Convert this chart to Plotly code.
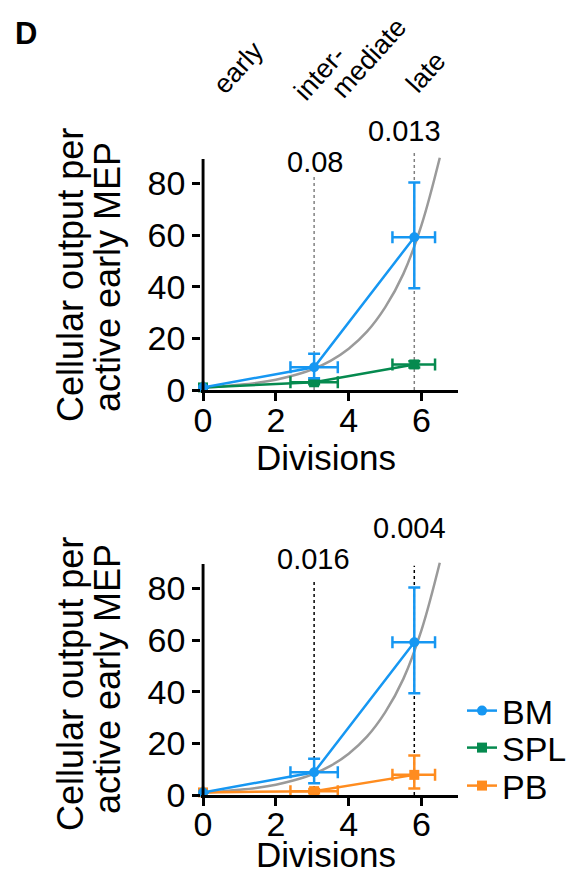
import plotly.graph_objects as go

# ---------------- data ----------------
divisions = [0, 3.05, 5.8]
div_err_minus = [0, 0.65, 0.6]
div_err_plus = [0, 0.65, 0.57]

bm_y = [1, 8.8, 59.2]
bm_err_plus = [0, 5.2, 21.2]
bm_err_minus = [0, 4.2, 19.8]

spl_y = [1, 3.0, 9.9]
spl_err_plus = [0, 0.8, 1.2]
spl_err_minus = [0, 0.8, 1.2]

pb_y = [1, 1.5, 7.8]
pb_err_plus = [0, 0.8, 7.5]
pb_err_minus = [0, 0.8, 5.3]

# exponential reference curve
curve_x = [0, 0.5, 1, 1.5, 2, 2.5, 3, 3.5, 4, 4.5, 5, 5.5, 6, 6.5]
curve_y = [1, 1.4, 2, 2.8, 4, 5.7, 8, 11.3, 16, 22.6, 32, 45, 64, 90]

stage_labels = ["early", "inter-", "mediate", "late"]
p_top = ["0.08", "0.013"]
p_bottom = ["0.016", "0.004"]
p_x = [3.05, 5.8]
dot_top_y = [83.5, 92]
dot_bot_y = [83.6, 88.8]

x_ticks = [0, 2, 4, 6]
y_ticks = [0, 20, 40, 60, 80]

# ---------------- style ----------------
W, H = 572, 873
FONT = "Arial, Liberation Sans, Helvetica, sans-serif"
BLUE = "#1697f2"
GREEN = "#058a4f"
ORANGE = "#ff8c1f"
GRAY = "#9a9a9a"

def px_x(p):
    return p / W

def px_y(p):
    return 1 - p / H

fig = go.Figure()

def add_series(x, y, ep, em, color, symbol, msize, name, xa, ya, show, leg):
    fig.add_trace(go.Scatter(
        x=x, y=y, mode="lines+markers", name=name,
        xaxis=xa, yaxis=ya, showlegend=show, legend=leg,
        line=dict(color=color, width=2.5),
        marker=dict(color=color, symbol=symbol, size=msize),
        error_y=dict(type="data", array=ep, arrayminus=em, color=color,
                     thickness=2.5, width=6, symmetric=False),
        error_x=dict(type="data", array=div_err_plus, arrayminus=div_err_minus,
                     color=color, thickness=2.5, width=6, symmetric=False),
        cliponaxis=False,
    ))

for xa, ya, dots, dcol in [("x", "y", dot_top_y, "#808080"), ("x2", "y2", dot_bot_y, "#000000")]:
    for xv, top in zip(p_x, dots):
        fig.add_trace(go.Scatter(x=[xv, xv], y=[0, top], mode="lines", xaxis=xa, yaxis=ya,
                                 line=dict(color=dcol, width=1.5, dash="dot"),
                                 showlegend=False, hoverinfo="skip"))
    fig.add_trace(go.Scatter(x=curve_x, y=curve_y, mode="lines", xaxis=xa, yaxis=ya,
                             line=dict(color=GRAY, width=2.5, shape="spline"),
                             showlegend=False, hoverinfo="skip"))

add_series(divisions, spl_y, spl_err_plus, spl_err_minus, GREEN, "square", 10, "SPL", "x", "y", True, "legend2")
add_series(divisions, bm_y, bm_err_plus, bm_err_minus, BLUE, "circle", 10, "BM", "x", "y", True, "legend")
add_series(divisions, pb_y, pb_err_plus, pb_err_minus, ORANGE, "square", 10, "PB", "x2", "y2", True, "legend3")
add_series(divisions, bm_y, bm_err_plus, bm_err_minus, BLUE, "circle", 10, "BM", "x2", "y2", False, "legend")

xdom = [px_x(201.2), px_x(458)]
ydom_top = [px_y(390), px_y(150)]
ydom_bot = [px_y(795), px_y(555)]

axis_common = dict(showgrid=False, zeroline=False, ticks="outside", ticklen=8, tickwidth=3,
                   tickcolor="black", tickfont=dict(family=FONT, size=34, color="black"),
                   automargin=False)

def leg(ypx):
    return dict(x=px_x(462), y=px_y(ypx), xanchor="left", yanchor="middle",
                font=dict(family=FONT, size=34, color="black"), itemwidth=30,
                bgcolor="rgba(0,0,0,0)")

fig.update_layout(
    width=W, height=H, margin=dict(l=0, r=0, t=0, b=0, pad=0, autoexpand=False),
    paper_bgcolor="white", plot_bgcolor="white",
    font=dict(family=FONT, color="black"),
    xaxis=dict(domain=xdom, range=[-0.05, 7], anchor="y", tickvals=x_ticks,
               showline=True, linewidth=3, linecolor="black", ticklabelstandoff=-10, **axis_common),
    yaxis=dict(domain=ydom_top, range=[0, 93], anchor="x", tickvals=y_ticks,
               showline=False, **axis_common),
    xaxis2=dict(domain=xdom, range=[-0.05, 7], anchor="y2", tickvals=x_ticks,
                showline=True, linewidth=3, linecolor="black", ticklabelstandoff=-11, **axis_common),
    yaxis2=dict(domain=ydom_bot, range=[0, 93], anchor="x2", tickvals=y_ticks,
                showline=False, **axis_common),
    legend=leg(711),
    legend2=leg(748),
    legend3=leg(786),
    showlegend=True,
)

# y-axis lines as shapes (stop below top of plot area)
for xr, yr in [("x", "y"), ("x2", "y2")]:
    fig.add_shape(type="line", xref=xr, yref=yr, x0=0, x1=0, y0=0, y1=89.5,
                  line=dict(color="black", width=3))

ann = []
def text(x, y, t, size, angle=0, bold=False):
    ann.append(dict(x=x, y=y, xref="paper", yref="paper", text=("<b>%s</b>" % t) if bold else t,
                    showarrow=False, textangle=angle, xanchor="center", yanchor="middle",
                    font=dict(family=FONT, size=size, color="black")))

text(px_x(26), px_y(34), "D", 31, bold=True)
text(px_x(238), px_y(68), stage_labels[0], 27, -48)
text(px_x(320), px_y(73), stage_labels[1], 27, -48)
text(px_x(369), px_y(58), stage_labels[2], 27, -48)
text(px_x(426), px_y(72), stage_labels[3], 27, -48)

# y-axis titles and x-axis titles
text(px_x(70), px_y(275), "Cellular output per", 36, -90)
text(px_x(107), px_y(277), "active early MEP", 36, -90)
text(px_x(326), px_y(457), "Divisions", 35)
text(px_x(70), px_y(684), "Cellular output per", 36, -90)
text(px_x(107), px_y(679), "active early MEP", 36, -90)
text(px_x(326), px_y(854), "Divisions", 35)

text(px_x(315), px_y(162), p_top[0], 29)
text(px_x(404), px_y(131), p_top[1], 29)
text(px_x(313), px_y(559), p_bottom[0], 29)
text(px_x(409), px_y(528), p_bottom[1], 29)

fig.update_layout(annotations=ann)

fig.write_html("out.html", config={"displayModeBar": False},
               post_script="document.body.style.margin='0';document.body.style.overflow='hidden';")
